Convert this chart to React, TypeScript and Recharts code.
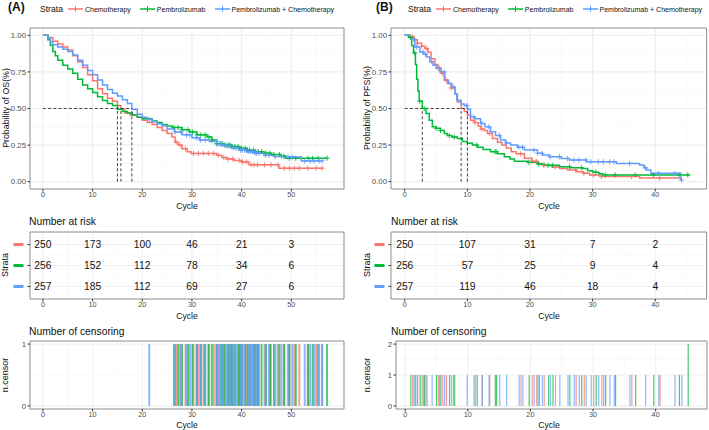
import React from 'react';
import {
  ComposedChart, Line, Scatter, XAxis, YAxis, CartesianGrid, ReferenceLine, ReferenceArea,
} from 'recharts';

const FONT = '"Liberation Sans", Arial, Helvetica, sans-serif';
const COLORS = ['#F8766D', '#00BA38', '#619CFF'];
const STRATA = ['Chemotherapy', 'Pembrolizumab', 'Pembrolizumab + Chemotherapy'];

type Pt = [number, number];

// ---- (A) overall survival, [cycle, survival] at each step
const osChemo: Pt[] = [
  [0, 1], [1, 0.985], [2, 0.96], [3, 0.94], [4, 0.92], [5, 0.9], [6, 0.86], [7, 0.82], [8, 0.78],
  [9, 0.73], [10, 0.69], [11, 0.635], [12, 0.6], [13, 0.57], [14, 0.55], [15, 0.52], [15.7, 0.495],
  [16.5, 0.47], [17.5, 0.455], [19, 0.44], [20, 0.42], [21, 0.405], [22, 0.39], [23, 0.37], [24, 0.35],
  [25, 0.33], [26, 0.305], [26.6, 0.27], [27.2, 0.25], [28, 0.225], [29, 0.205], [29.8, 0.193],
  [35, 0.18], [36, 0.165], [37, 0.155], [38.5, 0.145], [40, 0.135], [41.5, 0.115], [47.5, 0.092], [56.2, 0.092],
];
const osPembro: Pt[] = [
  [0, 1], [1, 0.97], [1.5, 0.93], [2, 0.89], [2.5, 0.86], [3, 0.83], [4, 0.795], [5, 0.77], [6, 0.74],
  [7, 0.7], [8, 0.66], [9, 0.635], [10, 0.61], [11, 0.58], [12, 0.555], [13, 0.535], [14, 0.52],
  [15, 0.495], [16, 0.48], [17, 0.47], [18, 0.455], [19, 0.44], [20, 0.43], [22, 0.415], [23, 0.405],
  [24, 0.39], [25, 0.38], [26, 0.37], [28, 0.355], [29.5, 0.34], [31, 0.32], [33, 0.305], [34, 0.285],
  [35, 0.26], [36.5, 0.25], [38, 0.24], [39.5, 0.228], [41, 0.215], [42.5, 0.205], [44.5, 0.195],
  [46, 0.185], [47.8, 0.175], [48.8, 0.16], [57.2, 0.16],
];
const osCombo: Pt[] = [
  [0, 1], [1, 0.98], [1.5, 0.955], [2, 0.935], [3, 0.92], [4, 0.905], [5, 0.89], [6, 0.865], [7, 0.83],
  [8, 0.795], [9, 0.76], [10, 0.73], [11, 0.695], [12, 0.66], [13, 0.63], [14, 0.605], [15, 0.585],
  [16, 0.56], [17, 0.535], [17.9, 0.495], [19, 0.46], [20, 0.44], [21, 0.425], [22, 0.41], [23, 0.395],
  [24, 0.38], [25, 0.36], [26.5, 0.34], [28, 0.32], [30, 0.3], [31.6, 0.285], [33.5, 0.275], [35, 0.255],
  [36.5, 0.245], [38, 0.232], [39.5, 0.215], [41, 0.205], [42.5, 0.195], [44.5, 0.18], [46.5, 0.172],
  [48.5, 0.168], [52, 0.142], [56.2, 0.142],
];
const osMedians = [15.7, 15.0, 17.9];
const osCensorChemo = [26.8, 27.6, 28.7, 30.3, 31.3, 32.3, 33.3, 34.4, 35.3, 36.4, 37.2, 38.2, 39.5, 40.2, 41.0, 41.9, 42.5, 43.2, 44.6, 45.9, 47.3, 48.6, 49.6, 50.6, 51.6, 53.3, 55.0, 56.2];
const osCensorPembro = [26.4, 27.2, 28.0, 29.2, 30.1, 31.0, 31.8, 32.6, 33.4, 34.0, 35.0, 35.7, 36.1, 36.6, 37.3, 37.7, 38.0, 38.6, 39.3, 39.7, 40.0, 40.7, 41.2, 41.6, 42.4, 42.8, 43.3, 44.0, 44.9, 45.7, 46.5, 47.6, 48.5, 49.6, 50.9, 53.4, 54.3, 55.4, 57.2];
const osCensorCombo = [21.4, 26.6, 27.8, 28.9, 29.6, 30.9, 31.7, 32.7, 34.9, 35.2, 35.9, 36.2, 36.9, 37.2, 37.6, 38.3, 38.7, 39.0, 39.8, 40.1, 40.6, 41.3, 41.8, 42.2, 42.7, 43.0, 43.5, 44.8, 45.5, 46.8, 48.0, 49.3, 50.2, 52.7, 53.8, 54.6, 55.6, 56.2];
const osRiskTimes = [0, 10, 20, 30, 40, 50];
const osRiskChemo = [250, 173, 100, 46, 21, 3];
const osRiskPembro = [256, 152, 112, 78, 34, 6];
const osRiskCombo = [257, 185, 112, 69, 27, 6];
const osTicks = [0, 10, 20, 30, 40, 50];

// ---- (B) progression-free survival
const pfsChemo: Pt[] = [
  [0, 1], [0.8, 0.99], [1.5, 0.97], [2, 0.945], [2.7, 0.925], [3.2, 0.91], [3.7, 0.885], [4.2, 0.84],
  [4.8, 0.8], [5.3, 0.775], [5.8, 0.74], [6.3, 0.695], [6.8, 0.67], [7.4, 0.64], [8, 0.6], [8.4, 0.545],
  [9, 0.5], [9.5, 0.48], [10, 0.455], [10.5, 0.42], [11.1, 0.405], [11.7, 0.38], [12.1, 0.36],
  [12.7, 0.35], [13.2, 0.33], [14, 0.295], [14.8, 0.27], [15.5, 0.25], [16.2, 0.23], [17, 0.205],
  [17.8, 0.19], [19.1, 0.16], [20.3, 0.14], [21.2, 0.125], [22.2, 0.11], [23.5, 0.1], [24.7, 0.09],
  [26, 0.08], [27.4, 0.068], [28.5, 0.058], [29.5, 0.046], [31.2, 0.035], [37.5, 0.025], [44.1, 0.025],
];
const pfsPembro: Pt[] = [
  [0, 1], [0.6, 0.985], [1.1, 0.93], [1.4, 0.88], [1.7, 0.8], [1.9, 0.7], [2.1, 0.62], [2.3, 0.55],
  [2.8, 0.5], [3.4, 0.465], [3.9, 0.42], [4.4, 0.375], [5, 0.365], [5.7, 0.35], [6.3, 0.33], [6.8, 0.315],
  [7.5, 0.305], [8.4, 0.295], [9.2, 0.275], [10, 0.262], [10.8, 0.25], [11.6, 0.235], [12.5, 0.22],
  [13.7, 0.205], [14.8, 0.19], [15.9, 0.17], [16.8, 0.155], [17.5, 0.14], [19.6, 0.132], [21.2, 0.12],
  [22.3, 0.112], [24.7, 0.102], [26.5, 0.095], [28.4, 0.09], [29.2, 0.075], [30, 0.065], [31, 0.055],
  [31.6, 0.046], [45.5, 0.046],
];
const pfsCombo: Pt[] = [
  [0, 1], [0.8, 0.99], [1.1, 0.975], [1.6, 0.92], [2.4, 0.886], [3, 0.87], [3.5, 0.852], [4, 0.82],
  [4.5, 0.795], [5, 0.775], [5.6, 0.75], [6.4, 0.693], [7, 0.67], [7.5, 0.648], [8, 0.6], [8.3, 0.557],
  [9, 0.53], [9.5, 0.52], [10, 0.495], [10.5, 0.443], [11.2, 0.43], [12.1, 0.398], [12.8, 0.375],
  [13.7, 0.341], [14.5, 0.315], [15.3, 0.284], [16.1, 0.265], [16.9, 0.25], [18, 0.235], [19.1, 0.216],
  [21.2, 0.194], [22, 0.182], [23.1, 0.17], [25, 0.158], [26.3, 0.148], [29, 0.136], [33.8, 0.125],
  [37.5, 0.114], [38.2, 0.095], [38.6, 0.08], [39.3, 0.057], [44.1, 0.012], [44.2, 0.012],
];
const pfsMedians = [9.0, 2.8, 10.0];
const pfsCensorChemo = [1.2, 2.0, 2.7, 3.5, 5.3, 6.0, 6.6, 7.4, 11.2, 12.3, 13.5, 18.5, 20.3, 21.0, 22.2, 24.0, 27.3, 28.6, 30.1, 31.4, 36.2, 40.7];
const pfsCensorPembro = [0.9, 1.6, 2.4, 3.1, 5.0, 5.7, 7.1, 7.9, 11.5, 14.4, 14.6, 19.8, 21.4, 22.9, 23.6, 26.3, 28.2, 30.5, 32.0, 33.6, 36.8, 39.7, 43.8, 45.2, 45.2];
const pfsCensorCombo = [1.4, 1.9, 2.9, 3.3, 4.3, 5.5, 6.3, 7.7, 9.9, 11.0, 12.3, 13.4, 15.1, 16.2, 18.2, 18.8, 20.6, 21.2, 21.9, 23.2, 24.7, 26.0, 27.0, 27.8, 28.9, 29.7, 30.9, 31.7, 32.7, 33.4, 35.9, 38.4, 40.5, 43.1, 44.2];
const pfsRiskTimes = [0, 10, 20, 30, 40];
const pfsRiskChemo = [250, 107, 31, 7, 2];
const pfsRiskPembro = [256, 57, 25, 9, 4];
const pfsRiskCombo = [257, 119, 46, 18, 4];
const pfsTicks = [0, 10, 20, 30, 40];

const KM_Y = [0, 0.25, 0.5, 0.75, 1];

type Frame = { x0: number; y0: number; x1: number; y1: number; xDomain: [number, number]; yDomain: [number, number] };

const YW = 22;
const XH = 14;
const PAD = 3;

const tickStyle = { fontSize: 7.8, fill: '#4d4d4d', fontFamily: FONT };
const xTickStyle = { fontSize: 7.3, fill: '#4d4d4d', fontFamily: FONT };

function mergeSteps(series: Pt[][]) {
  const rows = new Map<number, any>();
  series.forEach((s, i) => s.forEach(([t, v]) => {
    const r = rows.get(t) || { t };
    r['s' + i] = v;
    rows.set(t, r);
  }));
  return [...rows.values()].sort((a, b) => a.t - b.t);
}

function stepAt(s: Pt[], t: number) {
  let v = s[0][1];
  for (const [tt, vv] of s) if (tt <= t) v = vv;
  return v;
}

function countTimes(ts: number[]) {
  const m = new Map<number, number>();
  ts.forEach((t) => m.set(t, (m.get(t) || 0) + 1));
  return [...m.entries()];
}

const minorOf = (ticks: number[], step: number) => ticks.map((t) => t + step / 2);

const plus = (color: string) => (p: any) => (
  <g stroke={color} strokeWidth={0.9}>
    <line x1={p.cx - 2.6} x2={p.cx + 2.6} y1={p.cy} y2={p.cy} />
    <line x1={p.cx} x2={p.cx} y1={p.cy - 2.6} y2={p.cy + 2.6} />
  </g>
);

function Chart({ f, data, children }: { f: Frame; data?: any[]; children: React.ReactNode }) {
  return (
    <div style={{ position: 'absolute', left: f.x0 - YW - PAD, top: f.y0 - PAD }}>
      <ComposedChart
        width={f.x1 - f.x0 + YW + 2 * PAD}
        height={f.y1 - f.y0 + XH + 2 * PAD}
        margin={{ left: PAD, right: PAD, top: PAD, bottom: PAD }}
        data={data}
      >
        {children}
      </ComposedChart>
    </div>
  );
}

const xAxisProps = (f: Frame, ticks: number[]) => ({
  xAxisId: 0, type: 'number' as const, dataKey: 't', domain: f.xDomain, allowDataOverflow: true, ticks,
  interval: 0 as const, tickSize: 2.5, tickMargin: 0.5, axisLine: false, tickLine: { stroke: '#333' },
  tick: xTickStyle, height: XH,
});

const border = (f: Frame) => (
  <ReferenceArea x1={f.xDomain[0]} x2={f.xDomain[1]} y1={f.yDomain[0]} y2={f.yDomain[1]}
    fill="none" fillOpacity={0} stroke="#808080" strokeWidth={0.9} ifOverflow="visible" />
);

function KMPanel({ f, series, censors, medians, ticks }: { f: Frame; series: Pt[][]; censors: number[][]; medians: number[]; ticks: number[] }) {
  const data = mergeSteps(series);
  const marks = censors.map((ts, i) => countTimes(ts).map(([t]) => ({ t, s: stepAt(series[i], t) })));
  const medMax = Math.max(...medians);
  return (
    <Chart f={f} data={data}>
      <CartesianGrid stroke="#f2f2f2" strokeWidth={0.5} verticalValues={minorOf(ticks, 10)} horizontalValues={[0.125, 0.375, 0.625, 0.875]} />
      <CartesianGrid stroke="#e6e6e6" strokeWidth={0.8} verticalValues={ticks} horizontalValues={KM_Y} />
      <XAxis {...xAxisProps(f, ticks)} />
      <YAxis type="number" domain={f.yDomain} allowDataOverflow ticks={KM_Y} interval={0} width={YW}
        tickFormatter={(v: number) => v.toFixed(2)} tickSize={2.5} tickMargin={1.5} axisLine={false}
        tickLine={{ stroke: '#333' }} tick={tickStyle} />
      {series.map((_, i) => (
        <Line key={'l' + i} dataKey={'s' + i} type="stepAfter" connectNulls dot={false} activeDot={false}
          stroke={COLORS[i]} strokeWidth={1.5} isAnimationActive={false} />
      ))}
      {marks.map((m, i) => (
        <Scatter key={'m' + i} data={m} dataKey="s" shape={plus(COLORS[i])} isAnimationActive={false} />
      ))}
      <ReferenceLine segment={[{ x: 0, y: 0.5 }, { x: medMax, y: 0.5 }]} stroke="#333" strokeWidth={0.9} strokeDasharray="3 2.2" />
      {medians.map((m, i) => (
        <ReferenceLine key={'v' + i} segment={[{ x: m, y: 0 }, { x: m, y: 0.5 }]} stroke="#333" strokeWidth={0.9} strokeDasharray="3 2.2" />
      ))}
      {border(f)}
    </Chart>
  );
}

const strataTick = (p: any) => (
  <rect x={p.x - 12} y={p.y - 1.5} width={10} height={3} fill={COLORS[p.payload.value - 1]} />
);

const riskLabel = (p: any) => (
  <text x={p.cx} y={p.cy} textAnchor="middle" dominantBaseline="central" fontSize={10.3} fontFamily={FONT} fill="#111">
    {p.payload.n}
  </text>
);

function RiskPanel({ f, times, rows, ticks }: { f: Frame; times: number[]; rows: number[][]; ticks: number[] }) {
  const pts = rows.flatMap((r, i) => r.map((n, j) => ({ t: times[j], row: i + 1, n })));
  return (
    <Chart f={f}>
      <CartesianGrid stroke="#f2f2f2" strokeWidth={0.5} verticalValues={minorOf(ticks, 10)} horizontalValues={[1.5, 2.5]} />
      <CartesianGrid stroke="#ebebeb" strokeWidth={0.8} verticalValues={ticks} horizontalValues={[1, 2, 3]} />
      <XAxis {...xAxisProps(f, ticks)} />
      <YAxis type="number" domain={f.yDomain} allowDataOverflow reversed ticks={[1, 2, 3]} interval={0} width={YW}
        tickSize={2.5} tickMargin={2} axisLine={false} tickLine={{ stroke: '#333' }} tick={strataTick} />
      <Scatter data={pts} dataKey="row" shape={riskLabel} isAnimationActive={false} />
      {border(f)}
    </Chart>
  );
}

function CensorPanel({ f, censors, ticks, yTicks, barWidth }: { f: Frame; censors: number[][]; ticks: number[]; yTicks: number[]; barWidth: number }) {
  const bars = censors.flatMap((ts, i) => countTimes(ts).map(([t, n]) => ({ t, n, i })));
  return (
    <Chart f={f}>
      <CartesianGrid stroke="#f2f2f2" strokeWidth={0.5} verticalValues={minorOf(ticks, 10)} horizontalValues={minorOf(yTicks.slice(0, -1), 1)} />
      <CartesianGrid stroke="#ebebeb" strokeWidth={0.8} verticalValues={ticks} horizontalValues={yTicks} />
      <XAxis {...xAxisProps(f, ticks)} />
      <YAxis type="number" domain={f.yDomain} allowDataOverflow ticks={yTicks} interval={0} width={YW}
        tickSize={2.5} tickMargin={1.5} axisLine={false} tickLine={{ stroke: '#333' }} tick={tickStyle} />
      <Scatter data={bars} dataKey="n" shape={() => <g />} isAnimationActive={false} />
      {bars.map((b, k) => (
        <ReferenceLine key={k} segment={[{ x: b.t, y: 0 }, { x: b.t, y: b.n }]} stroke={COLORS[b.i]}
          strokeWidth={barWidth} strokeOpacity={0.72} />
      ))}
      {border(f)}
    </Chart>
  );
}

function Txt({ x, y, size, children, center, bold, rotate }: { x: number; y: number; size: number; children: React.ReactNode; center?: boolean; bold?: boolean; rotate?: boolean }) {
  return (
    <div style={{
      position: 'absolute', left: x, top: y, fontSize: size, lineHeight: 1, whiteSpace: 'nowrap',
      fontWeight: bold ? 700 : 400, color: '#111', fontFamily: FONT,
      transform: `translate(${center || rotate ? '-50%' : '0'}, -50%)${rotate ? ' rotate(-90deg)' : ''}`,
    }}>{children}</div>
  );
}

function LegendRow({ x, tag }: { x: number; tag: string }) {
  return (
    <>
      <Txt x={x - 32} y={7} size={12} bold>{tag}</Txt>
      <div style={{ position: 'absolute', left: x, top: 9, transform: 'translateY(-50%)', display: 'flex', alignItems: 'center', fontFamily: FONT, color: '#111', whiteSpace: 'nowrap', width: 'max-content' }}>
        <span style={{ fontSize: 8.6, marginRight: 5 }}>Strata</span>
        {STRATA.map((s, i) => (
          <span key={s} style={{ display: 'flex', alignItems: 'center', marginRight: 9 }}>
            <svg width={15} height={8}>
              <line x1={0} x2={15} y1={4} y2={4} stroke={COLORS[i]} strokeWidth={1.5} />
              <line x1={7.5} x2={7.5} y1={1} y2={7} stroke={COLORS[i]} strokeWidth={1} />
            </svg>
            <span style={{ fontSize: 7, marginLeft: 2 }}>{s}</span>
          </span>
        ))}
      </div>
    </>
  );
}

const A_X: [number, number] = [-2.6, 60.6];
const B_X: [number, number] = [-2.2, 48.2];

const kmA: Frame = { x0: 30, x1: 344, y0: 28, y1: 189, xDomain: A_X, yDomain: [-0.05, 1.05] };
const kmB: Frame = { x0: 391.4, x1: 707, y0: 28, y1: 189, xDomain: B_X, yDomain: [-0.05, 1.05] };
const riskA: Frame = { x0: 30, x1: 344, y0: 232, y1: 299, xDomain: A_X, yDomain: [0.4, 3.6] };
const riskB: Frame = { x0: 391.4, x1: 707, y0: 232, y1: 299, xDomain: B_X, yDomain: [0.4, 3.6] };
const censA: Frame = { x0: 30, x1: 344, y0: 341, y1: 409, xDomain: A_X, yDomain: [-0.05, 1.05] };
const censB: Frame = { x0: 396, x1: 707, y0: 341, y1: 409, xDomain: [-1.47, 48.2], yDomain: [-0.1, 2.1] };

export default function App() {
  return (
    <div style={{ position: 'absolute', left: 0, top: 0, width: 709, height: 430, overflow: 'hidden', background: '#fff', fontFamily: FONT }}>
      <LegendRow x={40} tag="(A)" />
      <LegendRow x={408} tag="(B)" />

      <KMPanel f={kmA} series={[osChemo, osPembro, osCombo]} censors={[osCensorChemo, osCensorPembro, osCensorCombo]} medians={osMedians} ticks={osTicks} />
      <KMPanel f={kmB} series={[pfsChemo, pfsPembro, pfsCombo]} censors={[pfsCensorChemo, pfsCensorPembro, pfsCensorCombo]} medians={pfsMedians} ticks={pfsTicks} />
      <Txt x={5.5} y={108} size={8.8} rotate>Probability of OS(%)</Txt>
      <Txt x={367} y={108} size={8.8} rotate>Probability of PFS(%)</Txt>
      <Txt x={187} y={205.5} size={8.6} center>Cycle</Txt>
      <Txt x={549} y={205.5} size={8.6} center>Cycle</Txt>

      <Txt x={29} y={222} size={10.3}>Number at risk</Txt>
      <Txt x={391} y={222} size={10.3}>Number at risk</Txt>
      <RiskPanel f={riskA} times={osRiskTimes} rows={[osRiskChemo, osRiskPembro, osRiskCombo]} ticks={osTicks} />
      <RiskPanel f={riskB} times={pfsRiskTimes} rows={[pfsRiskChemo, pfsRiskPembro, pfsRiskCombo]} ticks={pfsTicks} />
      <Txt x={5} y={265} size={9} rotate>Strata</Txt>
      <Txt x={367} y={265} size={9} rotate>Strata</Txt>
      <Txt x={187} y={315.5} size={8.6} center>Cycle</Txt>
      <Txt x={549} y={315.5} size={8.6} center>Cycle</Txt>

      <Txt x={29} y={332} size={10.3}>Number of censoring</Txt>
      <Txt x={391} y={332} size={10.3}>Number of censoring</Txt>
      <CensorPanel f={censA} censors={[osCensorChemo, osCensorPembro, osCensorCombo]} ticks={osTicks} yTicks={[0, 1]} barWidth={2} />
      <CensorPanel f={censB} censors={[pfsCensorChemo, pfsCensorPembro, pfsCensorCombo]} ticks={pfsTicks} yTicks={[0, 1, 2]} barWidth={1.2} />
      <Txt x={5} y={375} size={9} rotate>n.censor</Txt>
      <Txt x={367} y={375} size={9} rotate>n.censor</Txt>
      <Txt x={187} y={425} size={8.6} center>Cycle</Txt>
      <Txt x={549} y={425} size={8.6} center>Cycle</Txt>
    </div>
  );
}
